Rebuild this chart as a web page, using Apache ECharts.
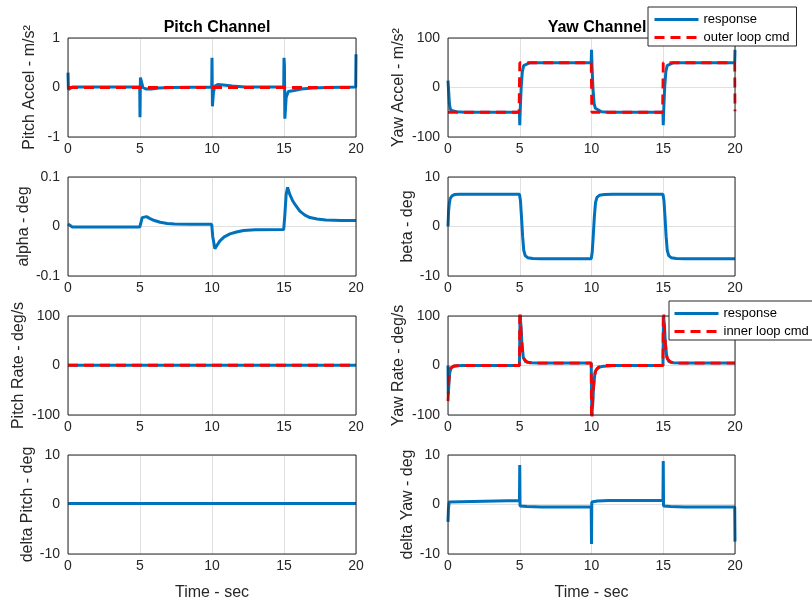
<!DOCTYPE html>
<html>
<head>
<meta charset="utf-8">
<script src="https://cdn.jsdelivr.net/npm/echarts@6/dist/echarts.min.js"></script>
<style>
  html, body { margin: 0; padding: 0; background: #fff; }
  #chart { width: 812px; height: 607px; }
</style>
</head>
<body>
<div id="chart"></div>
<script>
// ---- tick labels ----
const timeTicks = [0, 5, 10, 15, 20];
const pitchAccelTicks = [-1, 0, 1];
const alphaTicks = [-0.1, 0, 0.1];
const pitchRateTicks = [-100, 0, 100];
const deltaPitchTicks = [-10, 0, 10];
const yawAccelTicks = [-100, 0, 100];
const betaTicks = [-10, 0, 10];
const yawRateTicks = [-100, 0, 100];
const deltaYawTicks = [-10, 0, 10];

// ---- pitch channel, [time s, value] ----
const pitchAccelResponse = [
  [0, 0.3], [0.03, -0.04], [0.08, 0.0], [0.3, 0.01], [4.98, 0.01],
  [5.0, -0.6], [5.03, 0.2], [5.1, 0.12], [5.2, 0.0], [5.4, -0.03], [5.8, -0.03],
  [6.3, -0.01], [7.2, 0.0], [9.98, 0.01],
  [10.0, 0.6], [10.03, -0.38], [10.1, -0.1], [10.2, 0.03], [10.4, 0.06], [10.8, 0.05],
  [11.4, 0.03], [12.3, 0.01], [14.98, 0.01],
  [15.0, 0.6], [15.03, 0.45], [15.06, -0.63], [15.15, -0.2], [15.3, -0.08], [15.7, -0.06],
  [16.2, -0.03], [17.0, -0.01], [18.0, 0.0], [19.98, 0.01], [20.0, 0.67]
];
const pitchAccelCmd = [[0, 0], [20, 0]];
const alphaResponse = [
  [0, 0.005], [0.1, 0.002], [0.3, -0.001], [2, -0.001], [4.98, -0.001],
  [5.05, 0.006], [5.15, 0.018], [5.25, 0.022], [5.45, 0.02], [5.7, 0.016], [6.0, 0.012],
  [6.4, 0.0085], [6.9, 0.006], [7.4, 0.005], [8.5, 0.0045], [9.98, 0.0045],
  [10.05, -0.02], [10.2, -0.045], [10.35, -0.038], [10.55, -0.029], [10.85, -0.021],
  [11.25, -0.015], [11.7, -0.011], [12.2, -0.008], [13.0, -0.0065], [14.98, -0.006],
  [15.05, 0.02], [15.15, 0.065], [15.25, 0.079], [15.4, 0.065], [15.6, 0.052],
  [15.8, 0.043], [16.1, 0.031], [16.45, 0.023], [16.8, 0.018], [17.3, 0.015],
  [17.9, 0.013], [19.0, 0.012], [20, 0.012]
];
const pitchRateResponse = [[0, 0.5], [20, 0.5]];
const pitchRateCmd = [[0, 0.5], [20, 0.5]];
const deltaPitchResponse = [[0, 0.2], [20, 0.2]];

// ---- yaw channel, [time s, value] ----
const yawAccelResponse = [
  [0, 14], [0.05, -10], [0.1, -33], [0.16, -44], [0.3, -47], [0.6, -49], [1.2, -50], [4.98, -50],
  [5.0, -76], [5.04, -40], [5.1, 0], [5.18, 32], [5.27, 44], [5.4, 48], [5.7, 50], [9.98, 50],
  [10.0, 76], [10.04, 40], [10.1, 0], [10.18, -32], [10.27, -42], [10.4, -46], [10.7, -49], [11.2, -50], [14.98, -50],
  [15.0, -76], [15.04, -40], [15.1, 0], [15.18, 32], [15.27, 44], [15.4, 48], [15.7, 50], [19.98, 50],
  [20.0, 76]
];
const yawAccelCmd = [
  [0, -50], [4.95, -50], [5.0, 50], [9.98, 50], [10.02, -50], [14.95, -50], [15.0, 50], [19.98, 50], [20.0, -48]
];
const betaResponse = [
  [0, 0], [0.04, 3], [0.09, 4.6], [0.16, 5.7], [0.28, 6.2], [0.45, 6.45], [0.8, 6.5], [4.98, 6.5],
  [5.05, 5.2], [5.12, 2], [5.2, -2], [5.28, -4.8], [5.38, -5.9], [5.55, -6.3], [5.9, -6.45], [6.5, -6.5], [9.98, -6.5],
  [10.05, -5.2], [10.12, -2], [10.2, 2], [10.28, 4.8], [10.38, 5.9], [10.55, 6.3], [10.9, 6.45], [11.5, 6.5], [14.98, 6.5],
  [15.05, 5.2], [15.12, 2], [15.2, -2], [15.28, -4.8], [15.38, -5.9], [15.55, -6.3], [15.9, -6.45], [16.5, -6.5], [20, -6.5]
];
const yawRateResponse = [
  [0, 0], [0.02, -58], [0.06, -38], [0.12, -15], [0.2, -6], [0.35, -2], [0.6, -0.5], [1, 0], [4.98, 0],
  [5.02, 100], [5.08, 82], [5.15, 45], [5.25, 16], [5.4, 8], [5.7, 5.5], [6.5, 5], [9.98, 5],
  [10.02, -100], [10.08, -80], [10.15, -40], [10.25, -13], [10.4, -6], [10.7, -2], [11.5, 0], [14.98, 0],
  [15.02, 100], [15.08, 82], [15.15, 45], [15.25, 16], [15.4, 8], [15.7, 5.5], [16.5, 5], [20, 5]
];
const yawRateCmd = [
  [0, -72], [0.05, -35], [0.12, -12], [0.2, -5], [0.4, -1], [1, 0], [4.98, 0],
  [5.0, 130], [5.1, 62], [5.2, 26], [5.3, 13], [5.5, 7], [6, 5], [9.98, 5],
  [10.0, -130], [10.1, -60], [10.2, -24], [10.3, -10], [10.5, -3], [11, 0], [14.98, 0],
  [15.0, 130], [15.1, 62], [15.2, 26], [15.3, 13], [15.5, 7], [16, 5], [20, 5]
];
const deltaYawResponse = [
  [0, -3.5], [0.03, -1], [0.08, 0.5], [0.15, 0.8], [4.98, 0.8],
  [5.0, 8], [5.02, -0.3], [5.5, -0.4], [6.5, -0.5], [9.98, -0.5],
  [10.0, -8], [10.02, 0.5], [10.4, 0.7], [11.2, 0.8], [14.98, 0.8],
  [15.0, 8.8], [15.02, -0.3], [15.5, -0.4], [16.5, -0.5], [19.98, -0.5],
  [20.0, -7.5]
];

// ---- styling ----
const FONT = '"Liberation Sans", Arial, Helvetica, sans-serif';
const BLUE = '#0072BD';
const RED = '#FF0000';
const INK = '#262626';
const COL_LEFT = [68, 448];
const COL_WIDTH = [288, 287];
const ROW_TOP = [38, 177, 316, 455];
const PLOT_H = 99;
const DASH = [10, 6];

const resp = (name, data) => ({ name, data, kind: 'resp' });
const cmd = (name, data) => ({ name, data, kind: 'cmd' });

const panels = [
  { col: 0, row: 0, ticks: pitchAccelTicks, label: 'Pitch Accel - m/s²', gap: 30,
    lines: [resp('response', pitchAccelResponse), cmd('outer loop cmd', pitchAccelCmd)] },
  { col: 0, row: 1, ticks: alphaTicks, label: 'alpha - deg', gap: 33,
    lines: [resp('response', alphaResponse)] },
  { col: 0, row: 2, ticks: pitchRateTicks, label: 'Pitch Rate - deg/s', gap: 41,
    lines: [resp('response', pitchRateResponse), cmd('inner loop cmd', pitchRateCmd)] },
  { col: 0, row: 3, ticks: deltaPitchTicks, label: 'delta Pitch - deg', gap: 32,
    lines: [resp('response', deltaPitchResponse)] },
  { col: 1, row: 0, ticks: yawAccelTicks, label: 'Yaw Accel - m/s²', gap: 41,
    lines: [resp('response', yawAccelResponse), cmd('outer loop cmd', yawAccelCmd)] },
  { col: 1, row: 1, ticks: betaTicks, label: 'beta - deg', gap: 32,
    lines: [resp('response', betaResponse)] },
  { col: 1, row: 2, ticks: yawRateTicks, label: 'Yaw Rate - deg/s', gap: 41,
    lines: [resp('response', yawRateResponse), cmd('inner loop cmd', yawRateCmd)] },
  { col: 1, row: 3, ticks: deltaYawTicks, label: 'delta Yaw - deg', gap: 32,
    lines: [resp('response', deltaYawResponse)] }
];

const tickText = { fontFamily: FONT, fontSize: 14, color: INK };
const nameText = { fontFamily: FONT, fontSize: 16, color: INK };
const gridLine = { show: true, lineStyle: { color: '#e0e0e0', width: 1 } };

const grid = [], xAxis = [], yAxis = [], series = [];
panels.forEach((p, i) => {
  grid.push({
    left: COL_LEFT[p.col], top: ROW_TOP[p.row], width: COL_WIDTH[p.col], height: PLOT_H,
    show: true, z: 10, backgroundColor: 'transparent', borderColor: INK, borderWidth: 1
  });
  xAxis.push({
    gridIndex: i, type: 'value',
    min: timeTicks[0], max: timeTicks[timeTicks.length - 1], interval: timeTicks[1] - timeTicks[0],
    axisLine: { show: false }, axisTick: { show: false }, splitLine: gridLine,
    axisLabel: Object.assign({ margin: 5 }, tickText),
    name: p.row === 3 ? 'Time - sec' : '', nameLocation: 'middle', nameGap: 31,
    nameTextStyle: nameText
  });
  yAxis.push({
    gridIndex: i, type: 'value',
    min: p.ticks[0], max: p.ticks[p.ticks.length - 1], interval: p.ticks[1] - p.ticks[0],
    axisLine: { show: false }, axisTick: { show: false }, splitLine: gridLine,
    axisLabel: Object.assign({ margin: 8, formatter: v => String(+v.toFixed(4)) }, tickText),
    name: p.label, nameLocation: 'middle', nameRotate: 90, nameGap: p.gap,
    nameTextStyle: nameText
  });
  p.lines.forEach(l => {
    const isCmd = l.kind === 'cmd';
    const color = isCmd ? RED : BLUE;
    series.push({
      type: 'line', name: l.name, xAxisIndex: i, yAxisIndex: i, data: l.data,
      symbol: 'none', showSymbol: false, color: color, clip: true, z: isCmd ? 3 : 2,
      itemStyle: { color: color },
      lineStyle: isCmd
        ? { color: color, width: 2.8, type: DASH, cap: 'butt' }
        : { color: color, width: 3 }
    });
  });
});

// legend entries show only the line sample, no marker
const legendBase = {
  orient: 'vertical', z: 20, itemWidth: 44, itemHeight: 14, itemGap: 5,
  backgroundColor: '#ffffff', borderColor: INK, borderWidth: 1, borderRadius: 0,
  textStyle: { fontFamily: FONT, fontSize: 13, color: '#000' },
  itemStyle: { color: 'rgba(0,0,0,0)', borderColor: 'rgba(0,0,0,0)', borderWidth: 0 },
  lineStyle: { width: 3 },
  selectedMode: false
};

const option = {
  animation: false,
  backgroundColor: '#ffffff',
  title: [
    { text: 'Pitch Channel', left: 212, top: 15, textAlign: 'center',
      textStyle: { fontFamily: FONT, fontSize: 16, fontWeight: 'bold', color: '#000' } },
    { text: 'Yaw Channel', left: 592, top: 15, textAlign: 'center',
      textStyle: { fontFamily: FONT, fontSize: 16, fontWeight: 'bold', color: '#000' } }
  ],
  legend: [
    Object.assign({ data: ['response', 'outer loop cmd'], left: 648, top: 7, padding: [6, 7, 2, 5] }, legendBase),
    Object.assign({ data: ['response', 'inner loop cmd'], left: 669, top: 301, padding: [6, 7, 2, 4] }, legendBase)
  ],
  grid, xAxis, yAxis, series
};

echarts.init(document.getElementById('chart'), null, { renderer: 'canvas' }).setOption(option);
</script>
</body>
</html>
